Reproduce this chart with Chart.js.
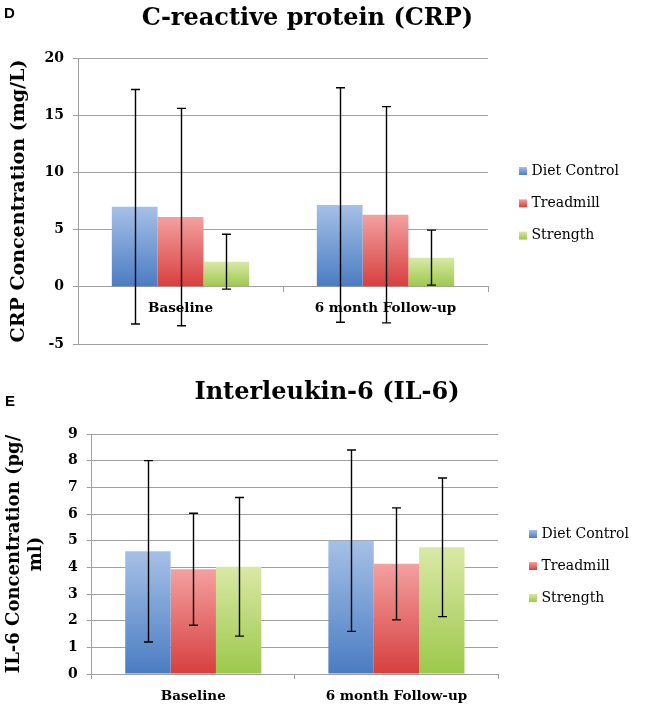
<!DOCTYPE html>
<html><head><meta charset="utf-8">
<script src="https://cdn.jsdelivr.net/npm/chart.js@4.4.0/dist/chart.umd.min.js"></script>
<style>
html,body{margin:0;padding:0;background:#fff;}
body{width:649px;height:708px;position:relative;overflow:hidden;}
.panel{position:absolute;left:0;width:649px;}
.tag{position:absolute;font:bold 15px 'Liberation Sans',Arial,sans-serif;line-height:15px;color:#000;z-index:5;}
</style></head><body>
<div class="tag" style="left:4px;top:5px">D</div>
<div class="tag" style="left:5px;top:393px">E</div>
<div class="panel" style="top:0;height:356px"><canvas id="crp"></canvas></div>
<div class="panel" style="top:356px;height:352px"><canvas id="il6"></canvas></div>
<script>
// ---- data ----
const categories = ['Baseline', '6 month Follow-up'];
const groups = ['Diet Control', 'Treadmill', 'Strength'];

const crpDiet = [7.0, 7.15];
const crpTreadmill = [6.1, 6.3];
const crpStrength = [2.2, 2.55];
const crpDietSD = [10.25, 10.25];
const crpTreadmillSD = [9.5, 9.45];
const crpStrengthSD = [2.4, 2.4];
const crpTicks = { min: -5, max: 20, step: 5 };

const il6Diet = [4.6, 5.0];
const il6Treadmill = [3.93, 4.13];
const il6Strength = [4.02, 4.75];
const il6DietSD = [3.4, 3.4];
const il6TreadmillSD = [2.1, 2.1];
const il6StrengthSD = [2.6, 2.6];
const il6Ticks = { min: 0, max: 9, step: 1 };

// ---- styles ----
const SERIF = "'DejaVu Serif', 'Liberation Serif', serif";
const GRID = '#a0a0a0';
const palette = [
  { light: '#a6c0e7', dark: '#4a7cc2' },
  { light: '#f4a0a0', dark: '#d63f3e' },
  { light: '#dae8a6', dark: '#9cc84b' }
];

function barFill(p) {
  return (ctx) => {
    const chart = ctx.chart;
    if (!chart.chartArea || ctx.type !== 'data' || !chart.scales.y) return p.dark;
    const y = chart.scales.y;
    const top = y.getPixelForValue(ctx.raw);
    const bot = y.getPixelForValue(0);
    if (!isFinite(top) || !isFinite(bot) || top === bot) return p.dark;
    const g = chart.ctx.createLinearGradient(0, top, 0, bot);
    g.addColorStop(0, p.light);
    g.addColorStop(1, p.dark);
    return g;
  };
}

// legend drawn in its own layout box (reserves space at right)
const boxLegend = {
  id: 'boxLegend',
  beforeInit(chart) {
    const box = {
      options: {}, position: 'right', weight: 100, fullSize: false,
      left: 0, top: 0, right: 0, bottom: 0, width: 0, height: 0,
      isHorizontal() { return false; },
      update(maxWidth, maxHeight) {
        this.width = chart.options.plugins.boxLegend.width;
        this.height = maxHeight;
      },
      draw() {
        const o = chart.options.plugins.boxLegend;
        const ctx = chart.ctx;
        ctx.save();
        chart.data.datasets.forEach((ds, i) => {
          const y = o.firstRow + i * o.rowGap;
          const bx = this.left + o.boxX, by = y - o.boxSize / 2;
          const g = ctx.createLinearGradient(0, by, 0, by + o.boxSize);
          g.addColorStop(0, palette[i].light);
          g.addColorStop(1, palette[i].dark);
          ctx.fillStyle = g;
          ctx.fillRect(bx, by, o.boxSize, o.boxSize);
          ctx.fillStyle = '#000';
          ctx.font = o.font;
          ctx.textBaseline = 'middle';
          ctx.textAlign = 'left';
          ctx.fillText(ds.label, this.left + o.textX, y);
        });
        ctx.restore();
      }
    };
    Chart.layouts.addBox(chart, box);
  }
};

const errorBars = {
  id: 'errorBars',
  afterDatasetsDraw(chart) {
    const o = chart.options.plugins.errorBars;
    const ys = chart.scales.y;
    const ctx = chart.ctx;
    ctx.save();
    ctx.strokeStyle = o.color;
    ctx.lineWidth = o.width;
    chart.data.datasets.forEach((ds, i) => {
      const meta = chart.getDatasetMeta(i);
      meta.data.forEach((bar, j) => {
        const v = ds.data[j], e = ds.errors[j];
        const x = Math.round(bar.x) + 0.5;
        const y1 = ys.getPixelForValue(v + e);
        const y2 = ys.getPixelForValue(v - e);
        ctx.beginPath();
        ctx.moveTo(x, y1); ctx.lineTo(x, y2);
        ctx.moveTo(x - o.cap, y1); ctx.lineTo(x + o.cap, y1);
        ctx.moveTo(x - o.cap, y2); ctx.lineTo(x + o.cap, y2);
        ctx.stroke();
      });
    });
    ctx.restore();
  }
};

function makeDatasets(vals, sds) {
  return groups.map((g, i) => ({
    label: g,
    data: vals[i],
    errors: sds[i],
    backgroundColor: barFill(palette[i]),
    borderWidth: 0
  }));
}

const tickFont = { family: SERIF, size: 14, weight: 'bold' };
const catFont = { family: SERIF, size: 13.5, weight: 'bold' };

// ---- CRP chart ----
new Chart(document.getElementById('crp'), {
  type: 'bar',
  data: {
    labels: categories,
    datasets: makeDatasets([crpDiet, crpTreadmill, crpStrength], [crpDietSD, crpTreadmillSD, crpStrengthSD])
  },
  plugins: [boxLegend, errorBars],
  options: {
    responsive: true, maintainAspectRatio: false, animation: false,
    layout: { padding: { left: 0, right: 34, top: 0, bottom: 12 } },
    datasets: { bar: { categoryPercentage: 0.67, barPercentage: 1 } },
    plugins: {
      legend: { display: false },
      tooltip: { enabled: false },
      title: {
        display: true, text: 'C-reactive protein (CRP)', color: '#000',
        font: { family: SERIF, size: 24, weight: 'bold', lineHeight: 1 },
        padding: { top: 6.5, bottom: 27.5 }
      },
      boxLegend: { width: 127, firstRow: 171, rowGap: 32.3, boxX: 31, textX: 43.5, boxSize: 8, font: "14px 'DejaVu Serif', serif" },
      errorBars: { color: '#000', width: 1.4, cap: 4.5 }
    },
    scales: {
      x: {
        position: { y: 0 },
        grid: { offset: true, drawOnChartArea: false, drawTicks: true, tickLength: 5, color: GRID },
        border: { color: GRID },
        ticks: { font: catFont, color: '#000', padding: 9 }
      },
      y: {
        min: crpTicks.min, max: crpTicks.max,
        ticks: { stepSize: crpTicks.step, font: tickFont, color: '#000', padding: 9 },
        grid: { color: GRID, tickLength: 5 },
        border: { color: GRID },
        title: {
          display: true, text: 'CRP Concentration (mg/L)', color: '#000',
          font: { family: SERIF, size: 19, weight: 'bold', lineHeight: 1.2 },
          padding: { top: 7.5, bottom: 0 }
        },
        afterFit(s) { s.width = 78; s.paddingTop = 0; s.paddingBottom = 0; }
      }
    }
  }
});

// ---- IL-6 chart ----
new Chart(document.getElementById('il6'), {
  type: 'bar',
  data: {
    labels: categories,
    datasets: makeDatasets([il6Diet, il6Treadmill, il6Strength], [il6DietSD, il6TreadmillSD, il6StrengthSD])
  },
  plugins: [boxLegend, errorBars],
  options: {
    responsive: true, maintainAspectRatio: false, animation: false,
    layout: { padding: { left: 5, right: 0, top: 0, bottom: 0 } },
    datasets: { bar: { categoryPercentage: 0.67, barPercentage: 1 } },
    plugins: {
      legend: { display: false },
      tooltip: { enabled: false },
      title: {
        display: true, text: 'Interleukin-6 (IL-6)', color: '#000',
        font: { family: SERIF, size: 24, weight: 'bold', lineHeight: 1 },
        padding: { top: 25, bottom: 29 }
      },
      boxLegend: { width: 151, firstRow: 178, rowGap: 32, boxX: 31, textX: 43.5, boxSize: 8, font: "14px 'DejaVu Serif', serif" },
      errorBars: { color: '#000', width: 1.4, cap: 4.5 }
    },
    scales: {
      x: {
        grid: { offset: true, drawOnChartArea: false, drawTicks: true, tickLength: 5, color: GRID },
        border: { color: GRID },
        ticks: { font: catFont, color: '#000', padding: 9 },
        afterFit(s) { s.height = 34; }
      },
      y: {
        min: il6Ticks.min, max: il6Ticks.max,
        ticks: { stepSize: il6Ticks.step, font: tickFont, color: '#000', padding: 9 },
        grid: { color: GRID, tickLength: 5 },
        border: { color: GRID },
        title: {
          display: true, text: ['IL-6 Concentration (pg/', 'ml)'], color: '#000',
          font: { family: SERIF, size: 18, weight: 'bold', lineHeight: 1.2 },
          padding: { top: -1, bottom: 0 }
        },
        afterFit(s) { s.width = 86.7; s.paddingTop = 0; }
      }
    }
  }
});
</script>
</body></html>
